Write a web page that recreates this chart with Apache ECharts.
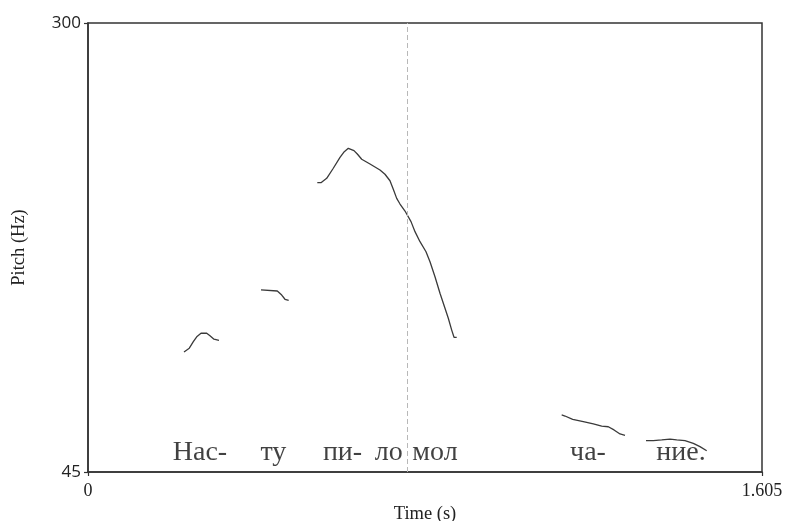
<!DOCTYPE html>
<html>
<head>
<meta charset="utf-8">
<script src="https://cdn.jsdelivr.net/npm/echarts@6/dist/echarts.min.js"></script>
<style>
html,body{margin:0;padding:0;background:#fff;}
#chart{width:787px;height:521px;}
</style>
</head>
<body>
<div id="chart"></div>
<script>
// Pitch contour pieces: [time (s), pitch (Hz)]
const pitchSeg1 = [[0.2286,113.2],[0.2412,115.3],[0.2508,119.0],[0.2589,121.8],[0.2691,123.8],[0.2827,123.8],[0.2905,122.4],[0.3000,120.4],[0.3119,119.8]];
const pitchSeg2 = [[0.4120,148.4],[0.4508,147.8],[0.4613,145.5],[0.4691,143.1],[0.4779,142.5]];
const pitchSeg3 = [[0.5460,209.3],[0.5548,209.3],[0.5684,211.8],[0.5841,217.5],[0.6001,223.7],[0.6103,226.9],[0.6199,228.8],[0.6334,227.5],[0.6413,225.6],[0.6518,222.6],[0.6715,219.9],[0.6953,216.5],[0.7072,214.1],[0.7191,210.4],[0.7270,205.6],[0.7351,200.4],[0.7430,197.2],[0.7549,193.2],[0.7692,187.2],[0.7787,181.5],[0.7906,175.8],[0.8049,170.1],[0.8144,164.4],[0.8263,155.9],[0.8382,146.5],[0.8501,138.0],[0.8580,132.3],[0.8661,125.6],[0.8716,121.5],[0.8780,121.5]];
const pitchSeg4 = [[1.1280,77.4],[1.1359,76.8],[1.1542,74.9],[1.1795,73.6],[1.2033,72.3],[1.2233,71.1],[1.2390,70.7],[1.2526,68.9],[1.2669,66.6],[1.2788,65.8]];
const pitchSeg5 = [[1.3288,62.8],[1.3462,62.8],[1.3662,63.2],[1.3860,63.7],[1.4019,63.2],[1.4216,62.8],[1.4414,61.3],[1.4573,59.4],[1.4733,57.1]];

// Syllable labels and their time positions
const syllables = ['Нас-','ту','пи-','ло','мол','ча-','ние.'];
const syllableTimes = [0.2667,0.4413,0.6061,0.7163,0.8263,1.1906,1.4121];
const syllablePitch = 55.8;

// Vertical marker time
const markerTime = 0.755;

// Axis ranges and tick labels
const timeRange = [0, 1.605];
const pitchRange = [45, 300];
const timeTicks = [0, 1.605];
const pitchTicks = [45, 300];

const segs = [pitchSeg1, pitchSeg2, pitchSeg3, pitchSeg4, pitchSeg5];
const lineColor = '#3a3a3a';

const series = segs.map((d, i) => ({
  type: 'line',
  data: d,
  showSymbol: false,
  smooth: false,
  lineStyle: {color: lineColor, width: 1.3},
  silent: true,
  z: 3,
  markLine: i === 0 ? {
    symbol: 'none',
    silent: true,
    label: {show: false},
    lineStyle: {color: '#b8b8b8', type: [5, 3], width: 1},
    data: [{xAxis: markerTime}]
  } : undefined
}));

series.push({
  type: 'scatter',
  data: syllables.map((s, i) => [syllableTimes[i], syllablePitch, s]),
  symbolSize: 0,
  silent: true,
  label: {
    show: true,
    position: 'inside',
    formatter: p => p.value[2],
    fontFamily: '"Liberation Serif", "DejaVu Serif", serif',
    fontSize: 28,
    color: '#111'
  },
  z: 4
});

const chart = echarts.init(document.getElementById('chart'), null, {renderer: 'canvas'});
chart.setOption({
  animation: false,
  backgroundColor: '#fff',
  grid: {left: 88, top: 23, right: 25, bottom: 49, show: true, borderColor: '#333', borderWidth: 1.5,
    containLabel: false, outerBoundsMode: 'none'},
  xAxis: {
    type: 'value',
    min: timeRange[0], max: timeRange[1],
    name: 'Time (s)',
    nameLocation: 'middle',
    nameGap: 30,
    nameTextStyle: {fontFamily: '"Liberation Serif", serif', fontSize: 18.5, color: '#222'},
    axisLine: {show: true, lineStyle: {color: '#333', width: 1.5}},
    axisTick: {show: true, length: 4, customValues: timeTicks, lineStyle: {color: '#333', width: 1.2}},
    axisLabel: {show: true, customValues: timeTicks, margin: 10, fontFamily: '"Liberation Serif", serif', fontSize: 18, color: '#222',
      formatter: v => (v === 0 ? '0' : v.toFixed(3))},
    splitLine: {show: false}
  },
  yAxis: {
    type: 'value',
    min: pitchRange[0], max: pitchRange[1],
    name: 'Pitch (Hz)',
    nameLocation: 'middle',
    nameGap: 59,
    nameRotate: 90,
    nameTextStyle: {fontFamily: '"Liberation Serif", serif', fontSize: 18.5, color: '#222'},
    axisLine: {show: true, lineStyle: {color: '#333', width: 1.5}},
    axisTick: {show: true, length: 4, customValues: pitchTicks, lineStyle: {color: '#333', width: 1.2}},
    axisLabel: {show: true, customValues: pitchTicks, margin: 7, fontFamily: '"Open Sans", "Liberation Sans", sans-serif', fontSize: 17, color: '#222'},
    splitLine: {show: false}
  },
  series: series
});
</script>
</body>
</html>
